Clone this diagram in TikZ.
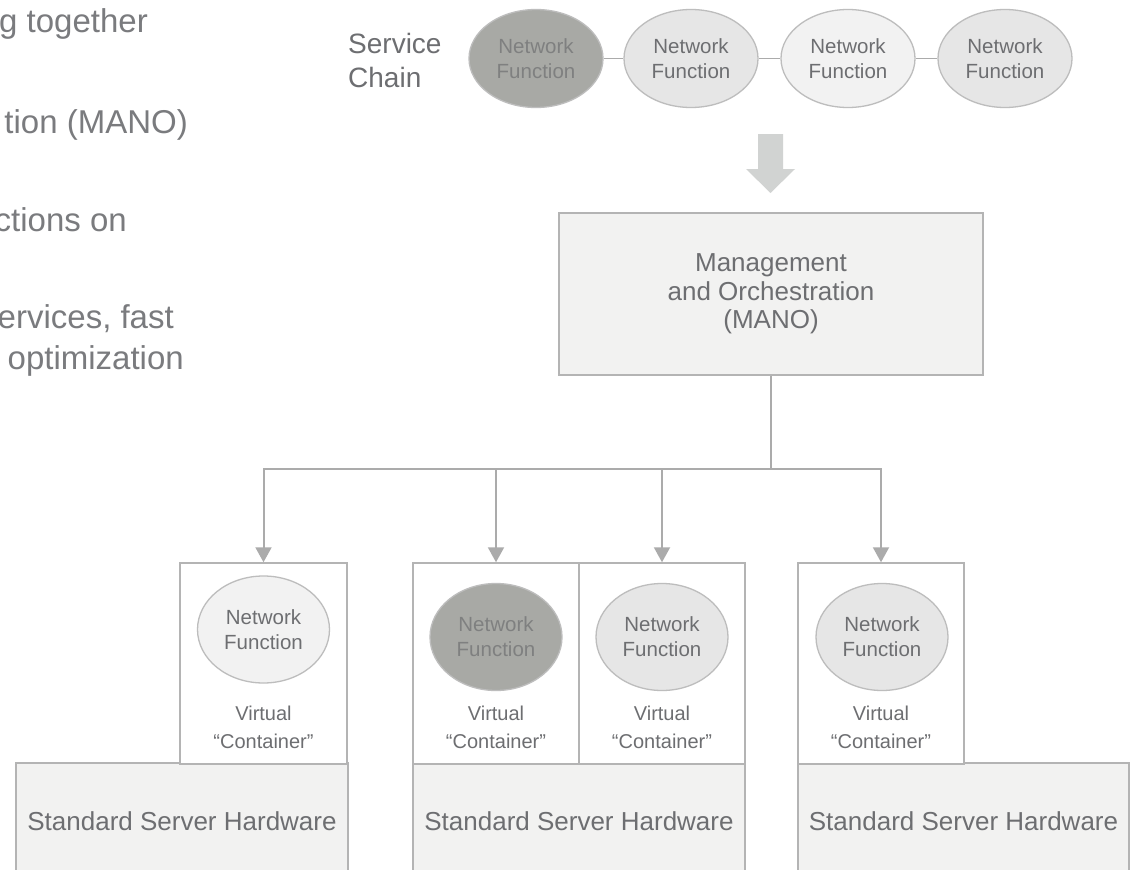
\documentclass[tikz,border=0pt]{standalone}
\usepackage{fontspec}
\setmainfont{Liberation Sans}
\usetikzlibrary{shapes.geometric,arrows.meta}
\definecolor{txt}{HTML}{6D6E71}
\definecolor{txtl}{HTML}{7A7B7E}
\definecolor{txtd}{HTML}{7F8080}
\definecolor{edge}{HTML}{B4B4B4}
\definecolor{ellb}{HTML}{BDBDBD}
\definecolor{fdark}{HTML}{A8A9A5}
\definecolor{fmid}{HTML}{E6E6E6}
\definecolor{flight}{HTML}{F2F2F2}
\definecolor{boxfill}{HTML}{F2F2F1}
\definecolor{connc}{HTML}{ABABAB}
\definecolor{bigarr}{HTML}{D1D3D2}
\begin{document}
\begin{tikzpicture}[x=1pt,y=-1pt,
  lefttxt/.style={inner sep=0pt, text=txtl, font=\fontsize{33}{40}\selectfont},
  nf/.style={ellipse, draw=ellb, line width=1.3pt, inner sep=0pt, align=center,
    text=txt, font=\fontsize{20.5}{25}\selectfont},
  topnf/.style={nf, minimum width=134pt, minimum height=98pt},
  cnf/.style={nf, minimum width=132pt, minimum height=107pt},
  darkfill/.style={fill=fdark, text=txtd},
  midfill/.style={fill=fmid},
  lightfill/.style={fill=flight},
  contbox/.style={rectangle, draw=edge, fill=white, line width=1.5pt, inner sep=0pt,
    minimum width=166pt, minimum height=201pt},
  hwbox/.style={rectangle, draw=edge, fill=boxfill, line width=1.5pt, inner sep=0pt,
    minimum width=332pt, minimum height=117pt, text=txt, font=\fontsize{26}{30}\selectfont},
  vclabel/.style={inner sep=0pt, align=center, text=txt, font=\fontsize{20}{28}\selectfont},
  conn/.style={draw=connc, line width=2pt},
  arr/.style={conn, -{Triangle[width=16pt,length=15pt]}}
]
\clip (0,0) rectangle (1130,870);
\fill[white] (0,0) rectangle (1130,870);

% left bullet text (cut off)
\node[lefttxt, anchor=base east] (l1) at (148,32) {g together};
\node[lefttxt, anchor=base east] (l2) at (188,133) {tion (MANO)};
\node[lefttxt, anchor=base east] (l3) at (127,231) {ctions on};
\node[lefttxt, anchor=base east] (l4) at (174,328) {ervices, fast};
\node[lefttxt, anchor=base east] (l5) at (184,369) {optimization};

% service chain
\node[inner sep=0pt, anchor=west, align=left, text=txt, font=\fontsize{28}{34}\selectfont] (sc) at (348,60) {Service\\Chain};
\node[topnf, darkfill] (c1) at (536,58.5) {Network\\Function};
\node[topnf, midfill] (c2) at (691,58.5) {Network\\Function};
\node[topnf, lightfill] (c3) at (848,58.5) {Network\\Function};
\node[topnf, midfill] (c4) at (1005,58.5) {Network\\Function};
\draw[conn, line width=1.6pt] (c1) -- (c2);
\draw[conn, line width=1.6pt] (c2) -- (c3);
\draw[conn, line width=1.6pt] (c3) -- (c4);

% big arrow
\fill[bigarr] (758,134) -- (783,134) -- (783,169) -- (795,169) -- (770.5,193) -- (746,169) -- (758,169) -- cycle;

% MANO
\node[rectangle, draw=edge, fill=boxfill, line width=1.5pt, minimum width=424pt, minimum height=162pt,
  align=center, text=txt, font=\fontsize{26}{28.5}\selectfont] (mano) at (771,294)
  {Management\\and Orchestration\\(MANO)};

% hardware
\node[hwbox] (h1) at (182,821.5) {Standard Server Hardware};
\node[hwbox] (h2) at (579,821.5) {Standard Server Hardware};
\node[hwbox, minimum width=331pt] (h3) at (963.5,821.5) {Standard Server Hardware};

% containers
\node[contbox, minimum width=167pt] (cA) at (263.5,663.5) {};
\node[contbox] (cB1) at (496,663.5) {};
\node[contbox] (cB2) at (662,663.5) {};
\node[contbox] (cC) at (881,663.5) {};

\node[cnf, lightfill] (eA) at (263.5,629.5) {Network\\Function};
\node[cnf, darkfill] (eB1) at (496,637) {Network\\Function};
\node[cnf, midfill] (eB2) at (662,637) {Network\\Function};
\node[cnf, midfill] (eC) at (882,637) {Network\\Function};

\node[vclabel] (vA) at (263.5,727) {Virtual\\“Container”};
\node[vclabel] (vB1) at (496,727) {Virtual\\“Container”};
\node[vclabel] (vB2) at (662,727) {Virtual\\“Container”};
\node[vclabel] (vC) at (881,727) {Virtual\\“Container”};

% distribution tree
\coordinate (junc) at (771,469);
\draw[conn] (mano.south) -- (junc);
\draw[arr] (junc) -| (cA.north);
\draw[arr] (junc) -| (cB1.north);
\draw[arr] (junc) -| (cB2.north);
\draw[arr] (junc) -| (cC.north);
\end{tikzpicture}
\end{document}
